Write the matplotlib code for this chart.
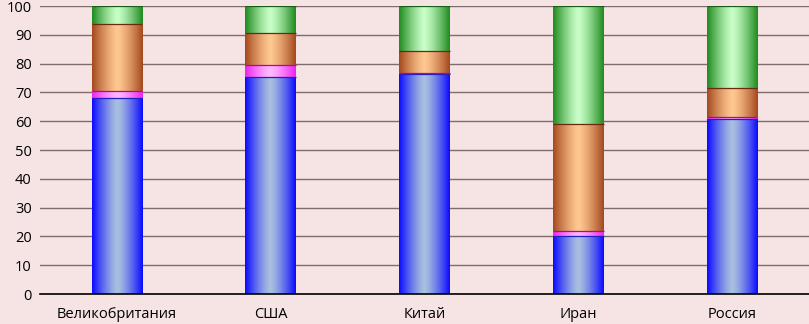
import matplotlib
matplotlib.use("Agg")
import matplotlib.pyplot as plt
import numpy as np
from matplotlib.colors import LinearSegmentedColormap

categories = ["Великобритания", "США", "Китай", "Иран", "Россия"]
s_blue = [68.2, 75.3, 76.5, 20.2, 60.7]
s_pink = [2.3, 4.2, 0.3, 1.6, 0.6]
s_orange = [23.2, 11.1, 7.6, 37.3, 10.3]
s_green = [6.3, 9.4, 15.6, 40.9, 28.4]
yticks = list(range(0, 101, 10))

series = [s_blue, s_pink, s_orange, s_green]
# (edge colour, centre colour, boundary line colour)
styles = [
    ("#0a0aff", "#aac0e0", "#2020c0"),
    ("#ee22ee", "#ffb8ff", "#b000b0"),
    ("#a4481e", "#ffc890", "#6a2a10"),
    ("#1e8a1e", "#c8ffc8", "#155f15"),
]

bg = "#f6e4e4"
fig = plt.figure(figsize=(8.09, 3.24), dpi=100, facecolor=bg)
ax = fig.add_axes([40/809, 30/324, 769/809, 288/324], facecolor=bg)

x = np.arange(len(categories))
width = 0.33
bottom = np.zeros(len(categories))
t = np.linspace(0, 1, 256)
prof = 1 - np.abs(2 * t - 1) ** 1.3

for vals, (c_edge, c_mid, c_line) in zip(series, styles):
    cmap = LinearSegmentedColormap.from_list("g", [c_edge, c_mid])
    bars = ax.bar(x, vals, width, bottom=bottom, color="none", edgecolor="none", zorder=3)
    for rect in bars:
        x0, y0 = rect.get_x(), rect.get_y()
        w, h = rect.get_width(), rect.get_height()
        im = ax.imshow(prof[np.newaxis, :], cmap=cmap, vmin=0, vmax=1, aspect="auto",
                       extent=(x0, x0 + w, y0, y0 + h), zorder=3, interpolation="bilinear")
        im.set_clip_path(rect)
        ax.plot([x0, x0 + w], [y0 + h, y0 + h], color=c_line, lw=0.9, zorder=4,
                solid_capstyle="butt")
    bottom = bottom + np.array(vals)

ax.set_xlim(-0.5, len(categories) - 0.5)
ax.set_ylim(0, 100)
ax.set_yticks(yticks)
ax.set_yticklabels([str(v) for v in yticks])
ax.set_xticks(x)
ax.set_xticklabels(categories)
ax.yaxis.grid(True, color="#806c6c", lw=1.0, zorder=0)
ax.set_axisbelow(True)
for sp in ["top", "right", "left"]:
    ax.spines[sp].set_visible(False)
ax.spines["bottom"].set_color("#000000")
ax.spines["bottom"].set_linewidth(1.2)
ax.spines["bottom"].set_zorder(5)
ax.tick_params(axis="both", length=0, labelsize=10.5, colors="#000000")
ax.tick_params(axis="y", pad=6)
ax.tick_params(axis="x", pad=9)
for lab in ax.get_xticklabels() + ax.get_yticklabels():
    lab.set_fontfamily("Open Sans")

fig.savefig("out.png", dpi=100, facecolor=bg)
